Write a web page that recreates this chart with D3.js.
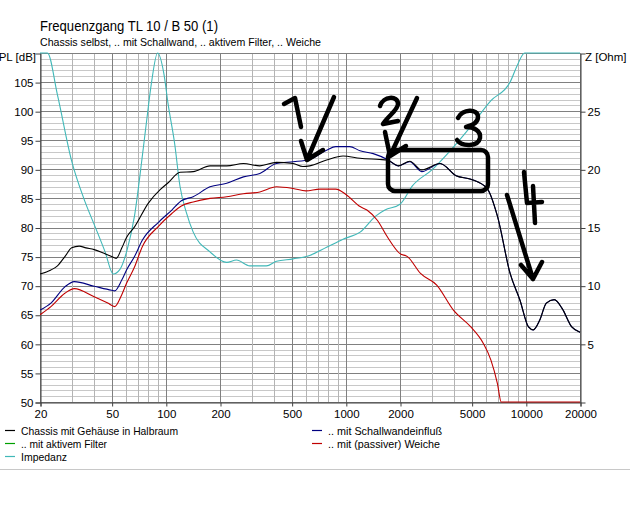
<!DOCTYPE html>
<html><head><meta charset="utf-8">
<script src="https://cdn.jsdelivr.net/npm/d3@7"></script>
<style>body{margin:0;background:#fff} svg{display:block} text{font-family:"Liberation Sans",Arial,sans-serif}</style>
</head><body><svg id="c" width="640" height="512"></svg>
<script>
const title = "Frequenzgang TL 10 / B 50 (1)";
const subtitle = "Chassis selbst, .. mit Schallwand, .. aktivem Filter, .. Weiche";
const xTickLabels = [20,50,100,200,500,1000,2000,5000,10000,20000];
const xMinor = [30,40,60,70,80,90,300,400,600,700,800,900,3000,4000,6000,7000,8000,9000];
const dbTicks = [50,55,60,65,70,75,80,85,90,95,100,105];
const zTicks = [5,10,15,20,25];
const legendNames = ["Chassis mit Gehäuse in Halbraum", ".. mit Schallwandeinfluß", ".. mit aktivem Filter", ".. mit (passiver) Weiche", "Impedanz"];
const legendColors = ["#000000", "#000080", "#00a000", "#c00000", "#40b8b8"];

// SPL series [Hz, dB]
const chassis = [[20,72],[23,72.7],[25,73.4],[27.5,75],[30,76.5],[33,76.8],[36,76.5],[40,76.2],[45,75.6],[50,75],[53,74.7],[57,76.5],[60.5,78.3],[67,80.1],[80,84.2],[93,86.5],[103,87.7],[120,89.5],[142,89.6],[176,90.6],[218,90.6],[270,91],[333,90.6],[412,91.2],[510,91],[577,90.5],[630,90.6],[782,91.6],[965,92.3],[1200,91.9],[1540,91.7],[1700,91.6],[1960,90.6],[2267,91.4],[2640,89.9],[3340,91],[4100,88.9],[4950,88.3],[6100,86.7],[6950,82],[8180,72.1],[9280,67.5],[10350,62.9],[11000,62.4],[11960,64.1],[13000,67],[14400,67.6],[15900,66.1],[18000,62.9],[20000,62]];
const schallwand = [[20,65.8],[23,67],[27.5,69.8],[31,70.7],[40,69.9],[50,69.2],[52,69.1],[57,71],[60.5,72.7],[67,75],[74,77.8],[91,80.9],[108,83],[122,84.6],[142,85.3],[176,87],[218,87.6],[270,88.7],[333,89.3],[412,91],[510,91.3],[630,91.7],[782,93.3],[880,93.9],[1050,93.9],[1200,93.2],[1420,92.7],[1700,91.7],[1960,90.6],[2267,91.3],[2640,89.6],[3340,91],[4100,88.9],[4950,88.3],[6100,86.7],[6950,82],[8180,72.1],[9280,67.5],[10350,62.9],[11000,62.4],[11960,64.1],[13000,67],[14400,67.6],[15900,66.1],[18000,62.9],[20000,62]];
const weiche = [[20,65],[23,66.4],[27.5,68.7],[31,69.5],[40,68.1],[47.6,67],[52,66.4],[57,68.5],[60.5,70.4],[67,73.2],[74,76.7],[91,80.2],[108,82.4],[122,83.7],[142,84.4],[176,85],[218,85.3],[270,85.8],[333,86.1],[412,87],[510,86.7],[600,86.3],[718,86.6],[880,86.6],[1010,85.6],[1200,83.6],[1310,83],[1500,81.2],[1700,78.4],[2000,75.5],[2200,75],[2600,72.1],[3200,70.1],[3960,65.8],[4950,62.9],[5800,60.1],[6400,57.2],[6950,53.2],[7300,50],[20000,50]];
// Impedance [Hz, Ohm]
const impedanz = [[20,30],[22,30],[25,26.4],[30,20.7],[35.6,17.2],[40.4,15.1],[46,12.9],[51,11],[55.6,11.4],[61,13.1],[67,16],[73.6,20.8],[78,24],[83,27.3],[90,30],[97.6,28.2],[103,25.6],[112,22.2],[120,18.5],[130,16.3],[142,14.6],[176,12.9],[218,12],[247,12.2],[293,11.7],[362,11.7],[412,12.1],[510,12.3],[630,12.6],[782,13.3],[965,14],[1200,14.6],[1470,16],[1650,16.5],[2000,17],[2350,18.6],[3030,20],[3700,21.4],[4950,23.7],[6400,25.9],[8180,27.5],[9000,29],[9850,30],[20000,30]];

const svg = d3.select("#c");
const L=40, R=580, T=53, B=402;
const x = d3.scaleLog().domain([20,20000]).range([L,R]);
const yDb = d3.scaleLinear().domain([50,110]).range([B,T]);
const yZ = d3.scaleLinear().domain([0,30]).range([B,T]);

svg.append("text").attr("x",40).attr("y",31).attr("font-size",14).attr("fill","#000").text(title).attr("textLength",178).attr("lengthAdjust","spacingAndGlyphs");
svg.append("text").attr("x",40).attr("y",46).attr("font-size",11.5).attr("fill","#000").text(subtitle).attr("textLength",281).attr("lengthAdjust","spacingAndGlyphs");

const g = svg.append("g");
for (let v=51; v<110; v++) {
  const major = v%5===0;
  g.append("line").attr("x1",L).attr("x2",R).attr("y1",yDb(v)+0.5).attr("y2",yDb(v)+0.5)
   .attr("stroke", major?"#808080":"#c8c8c8").attr("stroke-width",1).attr("shape-rendering","crispEdges");
}
xMinor.forEach(f=>g.append("line").attr("x1",Math.round(x(f))+0.5).attr("x2",Math.round(x(f))+0.5).attr("y1",T).attr("y2",B)
   .attr("stroke","#b4b4b4").attr("shape-rendering","crispEdges"));
xTickLabels.forEach(f=>g.append("line").attr("x1",Math.round(x(f))+0.5).attr("x2",Math.round(x(f))+0.5).attr("y1",T).attr("y2",B)
   .attr("stroke","#808080").attr("shape-rendering","crispEdges"));
g.append("rect").attr("x",L+0.5).attr("y",T+0.5).attr("width",R-L).attr("height",B-T).attr("fill","none").attr("stroke","#808080").attr("shape-rendering","crispEdges");

const axL = d3.axisLeft(yDb).tickValues(dbTicks).tickSize(5).tickPadding(2);
const gl = svg.append("g").attr("transform",`translate(${L+0.5},0.5)`).call(axL);
const axR = d3.axisRight(yZ).tickValues(zTicks).tickSize(5).tickPadding(2);
const gr = svg.append("g").attr("transform",`translate(${R+0.5},0.5)`).call(axR);
const axB = d3.axisBottom(x).tickValues(xTickLabels).tickFormat(d3.format("d")).tickSize(4).tickPadding(3);
const gb = svg.append("g").attr("transform",`translate(0.5,${B+0.5})`).call(axB);
[gl,gr,gb].forEach(a=>{a.select(".domain").attr("stroke","#404040");a.selectAll(".tick line").attr("stroke","#404040");
  a.selectAll("text").attr("font-size",11.5).attr("fill","#000").attr("font-family","'Liberation Sans',Arial,sans-serif");});
svg.append("text").attr("x",36).attr("y",61).attr("text-anchor","end").attr("font-size",11.5).text("SPL [dB]");
svg.append("text").attr("x",585).attr("y",61).attr("font-size",11.5).text("Z [Ohm]");

svg.append("clipPath").attr("id","clp").append("rect").attr("x",L).attr("y",T-1).attr("width",R-L+1).attr("height",B-T+2);
const plot = svg.append("g").attr("clip-path","url(#clp)");
const lineDb = d3.line().x(d=>x(d[0])).y(d=>yDb(d[1])).curve(d3.curveMonotoneX);
const lineZ = d3.line().x(d=>x(d[0])).y(d=>yZ(d[1])).curve(d3.curveMonotoneX);
plot.append("path").attr("d",lineZ(impedanz)).attr("fill","none").attr("stroke",legendColors[4]).attr("stroke-width",1.1);
plot.append("path").attr("d",lineDb(weiche)).attr("fill","none").attr("stroke",legendColors[3]).attr("stroke-width",1.1);
plot.append("path").attr("d",lineDb(schallwand)).attr("fill","none").attr("stroke",legendColors[1]).attr("stroke-width",1.1);
plot.append("path").attr("d",lineDb(chassis)).attr("fill","none").attr("stroke",legendColors[0]).attr("stroke-width",1.1);

const legPos = [[5,435],[312,435],[5,448],[312,448],[5,461]];
const legW = [157,114,86,112,46];
legendNames.forEach((n,i)=>{
  const [lx,ly]=legPos[i];
  svg.append("line").attr("x1",lx).attr("x2",lx+10).attr("y1",ly-4.5).attr("y2",ly-4.5).attr("stroke",legendColors[i]).attr("stroke-width",1.2);
  svg.append("text").attr("x",lx+16).attr("y",ly).attr("font-size",11).text(n).attr("textLength",legW[i]).attr("lengthAdjust","spacingAndGlyphs");
});
svg.append("line").attr("x1",0).attr("x2",630).attr("y1",469.5).attr("y2",469.5).attr("stroke","#c8c8c8");

const ann = svg.append("g").attr("fill","none").attr("stroke","#000").attr("stroke-width",4.5).attr("stroke-linecap","round").attr("stroke-linejoin","round");
ann.append("path").attr("d","M284,104 L295,98 L301,127");
ann.append("path").attr("d","M334,97 L307,160 M301,141 L307,160 L323,150");
ann.append("path").attr("d","M380,106 C383,96 398,95 398,104 C398,110 388,116 383,124 L398,121");
ann.append("path").attr("d","M417,98 L390,156 M385,132 L390,156 L406,146");
ann.append("path").attr("d","M458,118 C462,109 478,108 478,117 C478,124 470,126 466,127 C474,127 481,131 480,138 C478,147 462,147 457,140");
ann.append("rect").attr("x",388).attr("y",150).attr("width",100).attr("height",41).attr("rx",7);
ann.append("path").attr("d","M524,172 L527,203 L542,202 M533,186 L535,223");
ann.append("path").attr("d","M507,195 L533,279 M521,265 L533,279 L542,262");
</script></body></html>
